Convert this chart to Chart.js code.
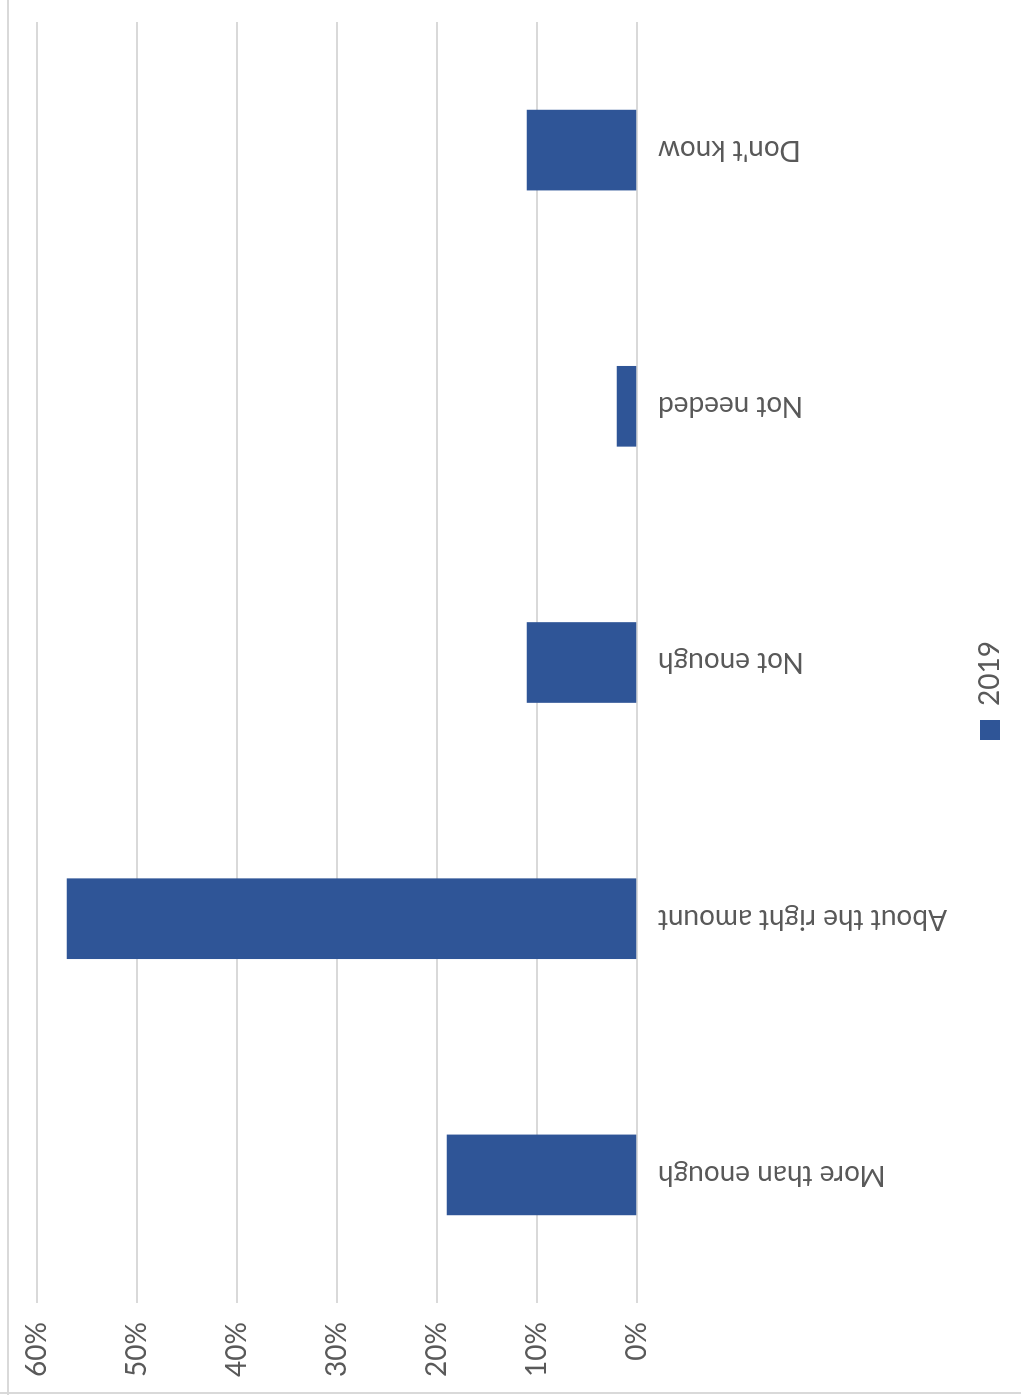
<!DOCTYPE html>
<html>
<head>
<meta charset="utf-8">
<script src="https://cdn.jsdelivr.net/npm/chart.js@4/dist/chart.umd.min.js"></script>
<style>
  html, body { margin: 0; padding: 0; background: #fff; }
  #wrap { position: relative; width: 1021px; height: 1395px; overflow: hidden; }
  /* the chart is drawn upright, then turned a quarter turn anticlockwise like the scan */
  #chart { position: absolute; left: 0; top: 0; transform-origin: 0 0; transform: translateY(1395px) rotate(-90deg); }
</style>
</head>
<body>
<div id="wrap">
  <canvas id="chart" width="1395" height="1021"></canvas>
</div>
<script>
// data
const categories = ['More than enough', 'About the right amount', 'Not enough', 'Not needed', "Don't know"];
const seriesName = '2019';
const values2019 = [19, 57, 11, 2, 11];
const tickValues = [0, 10, 20, 30, 40, 50, 60];

const textColor = '#595959';
const fontFamily = 'Lato, "Open Sans", sans-serif';

// white page plus the faint frame lines seen on the left and bottom of the scan
const framePlugin = {
    id: 'frame',
    afterLayout(chart) {
        // legend sits a little off centre in the original
        const lg = chart.legend;
        if (lg) {
            lg.left += 18;
            lg.right += 18;
        }
    },
    beforeDraw(chart) {
        const ctx = chart.ctx;
        ctx.save();
        ctx.fillStyle = '#ffffff';
        ctx.fillRect(0, 0, chart.width, chart.height);
        ctx.strokeStyle = '#d9d9d9';
        ctx.lineWidth = 2;
        ctx.beginPath();
        ctx.moveTo(0, 8);
        ctx.lineTo(chart.width, 8);
        ctx.moveTo(2, 0);
        ctx.lineTo(2, chart.height);
        ctx.stroke();
        ctx.restore();
    }
};

const ctx = document.getElementById('chart').getContext('2d');
const chart = new Chart(ctx, {
    type: 'bar',
    data: {
        labels: categories,
        datasets: [{
            label: seriesName,
            data: values2019,
            backgroundColor: '#2f5597',
            borderWidth: 0,
            barThickness: 80
        }]
    },
    options: {
        responsive: false,
        animation: false,
        devicePixelRatio: 1,
        layout: {
            padding: { top: 37, left: 0, right: 22, bottom: 7 }
        },
        scales: {
            x: {
                grid: { display: false },
                border: { display: false },
                ticks: {
                    color: textColor,
                    font: { family: fontFamily, size: 28 },
                    minRotation: 90,
                    maxRotation: 90,
                    padding: 13
                },
                afterFit: (scale) => { scale.height = 329; }
            },
            y: {
                min: 0,
                max: 60,
                afterBuildTicks: (scale) => {
                    scale.ticks = tickValues.map(v => ({ value: v }));
                },
                grid: { color: '#d9d9d9', lineWidth: 2, drawTicks: false },
                border: { display: false },
                ticks: {
                    color: textColor,
                    font: { family: fontFamily, size: 28 },
                    padding: 19,
                    callback: (v) => v + '%'
                },
                afterFit: (scale) => { scale.width = 92; }
            }
        },
        plugins: {
            legend: {
                position: 'bottom',
                labels: {
                    color: textColor,
                    font: { family: fontFamily, size: 28 },
                    boxWidth: 20,
                    boxHeight: 20,
                    padding: 10
                }
            },
            tooltip: { enabled: false }
        }
    },
    plugins: [framePlugin]
});
</script>
</body>
</html>
